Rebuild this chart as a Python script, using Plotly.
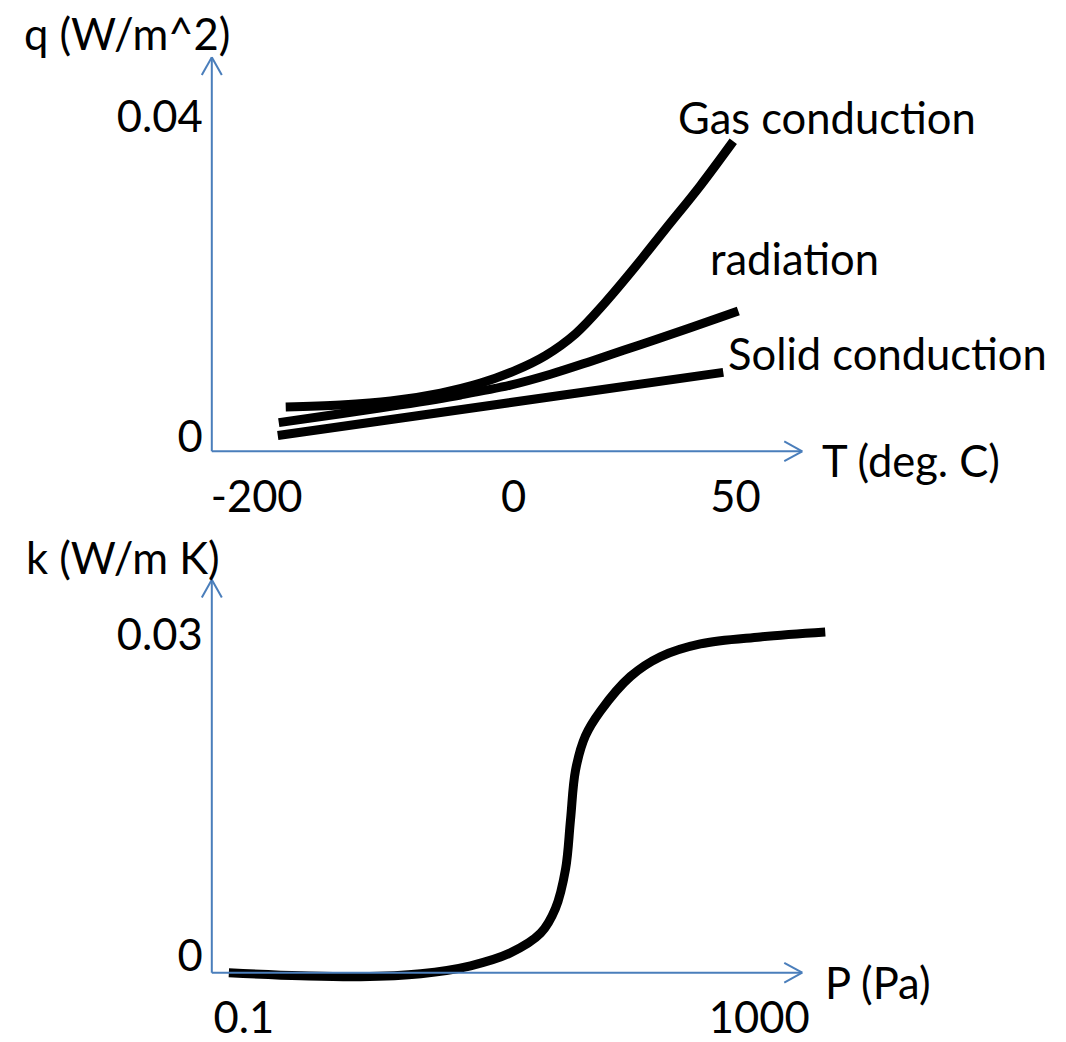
import plotly.graph_objects as go

W, H = 1066, 1042
FONT = "Lato"
FS = 43.5
AXIS_BLUE = "#4a7ebb"

# ---------------- top panel (schematic, q vs T) ----------------
# x: normalised position along the T axis (0 = origin, 1 = arrow tip)
T_tick_pos = [0.076, 0.511, 0.887]
T_tick_text = ["-200", "0", "50"]
q_tick_vals = [0.0, 0.04]
q_tick_text = ["0", "0.04"]

gas_x = [0.1252, 0.2183, 0.3029, 0.3875, 0.4552, 0.5144, 0.5651, 0.6159,
         0.6667, 0.7174, 0.7682, 0.8274, 0.8832]
gas_q = [0.00370, 0.00395, 0.00444, 0.00543, 0.00667, 0.00827, 0.01012,
         0.01284, 0.01679, 0.02123, 0.02593, 0.03136, 0.03691]

rad_x = [0.1134, 0.2183, 0.3198, 0.4213, 0.5059, 0.5736, 0.6413, 0.7259,
         0.8105, 0.8917]
rad_q = [0.00173, 0.00284, 0.00395, 0.00519, 0.00642, 0.00778, 0.00938,
         0.01148, 0.01358, 0.01568]

sol_x = [0.1117, 0.4890, 0.8663]
sol_q = [0.00012, 0.00407, 0.00802]

# ---------------- bottom panel (k vs P, log P) ----------------
P_tick_vals = [0.1, 1000]
P_tick_text = ["0.1", "1000"]
k_tick_vals = [0.0, 0.03]
k_tick_text = ["0", "0.03"]

P_vals = [0.0766, 0.277, 0.807, 2.36, 5.75, 11.7, 20.1, 26.2, 31.4, 34.3,
          37.5, 44.8, 58.5, 100, 171, 349, 1018, 3250]
k_vals = [-0.00157, -0.00185, -0.00194, -0.00166, -0.00092, 0.00028,
          0.00212, 0.00443, 0.00812, 0.01274, 0.01735, 0.02058, 0.02289,
          0.02612, 0.02797, 0.02917, 0.02982, 0.03028]


def px(x):
    return x / W


def py(y):
    return 1 - y / H


fig = go.Figure()
line = dict(color="black", width=9, shape="spline", smoothing=1.0)
fig.add_trace(go.Scatter(x=gas_x, y=gas_q, mode="lines", line=line, xaxis="x", yaxis="y", name="Gas conduction"))
fig.add_trace(go.Scatter(x=rad_x, y=rad_q, mode="lines", line=line, xaxis="x", yaxis="y", name="radiation"))
fig.add_trace(go.Scatter(x=sol_x, y=sol_q, mode="lines", line=line, xaxis="x", yaxis="y", name="Solid conduction"))
fig.add_trace(go.Scatter(x=P_vals, y=k_vals, mode="lines", line=line, xaxis="x2", yaxis="y2", name="k"))

tickfont = dict(family=FONT, size=FS, color="black")
common = dict(showgrid=False, zeroline=False, showline=False, ticks="",
              tickfont=tickfont, anchor="free", fixedrange=True)

# top panel: origin pixel (211,457), arrow tips at x=802 / y=58
fig.update_layout(
    xaxis=dict(domain=[px(211), px(802)], range=[0, 1], tickvals=T_tick_pos,
               ticktext=T_tick_text, position=py(457), ticklabelstandoff=16, **common),
    yaxis=dict(domain=[py(457), py(58)], range=[(442 - 457) / 8100, (442 - 58) / 8100],
               tickvals=q_tick_vals, ticktext=q_tick_text, position=px(211),
               ticklabelstandoff=9, **common),
    xaxis2=dict(domain=[px(211), px(835)], type="log",
                range=[-1 + (211 - 243) / 129, -1 + (835 - 243) / 129],
                tickvals=P_tick_vals, ticktext=P_tick_text, position=py(985),
                ticklabelstandoff=16, **common),
    yaxis2=dict(domain=[py(1000), py(580)], range=[(968 - 1000) / 10833, (968 - 580) / 10833],
                tickvals=k_tick_vals, ticktext=k_tick_text, position=px(211),
                ticklabelstandoff=9, **common),
)

# axis lines with open arrow heads (decoration)
shapes = []
axl = dict(color=AXIS_BLUE, width=2)


def seg(x0, y0, x1, y1):
    shapes.append(dict(type="line", xref="paper", yref="paper",
                       x0=px(x0), y0=py(y0), x1=px(x1), y1=py(y1), line=axl))


for (ox, oy, tx, ty) in [(211, 457, 802, 58), (211, 985, 802, 587)]:
    seg(ox, oy, tx, oy)          # x axis
    seg(ox, oy, ox, ty)          # y axis
    seg(tx - 18, oy - 10, tx, oy)
    seg(tx - 18, oy + 10, tx, oy)
    seg(ox - 10, ty + 18, ox, ty)
    seg(ox + 10, ty + 18, ox, ty)

annots = []


def txt(s, x, y):
    annots.append(dict(text=s, xref="paper", yref="paper", x=px(x), y=py(y),
                       xanchor="left", yanchor="middle", showarrow=False,
                       font=dict(family=FONT, size=FS, color="black")))


txt("q (W/m^2)", 21, 33)
txt("T (deg. C)", 820, 466)
txt("Gas conduction", 676, 118)
txt("radiation", 708, 261)
txt("Solid conduction", 726, 357)
txt("k (W/m K)", 23, 564)
txt("P (Pa)", 823, 994)

fig.update_layout(
    width=W, height=H, margin=dict(l=0, r=0, t=0, b=0),
    paper_bgcolor="white", plot_bgcolor="white", showlegend=False,
    shapes=shapes, annotations=annots,
)

fig.write_html("out.html", include_plotlyjs=True, config={"displayModeBar": False},
               post_script="document.body.style.margin='0';document.body.style.overflow='hidden';")
